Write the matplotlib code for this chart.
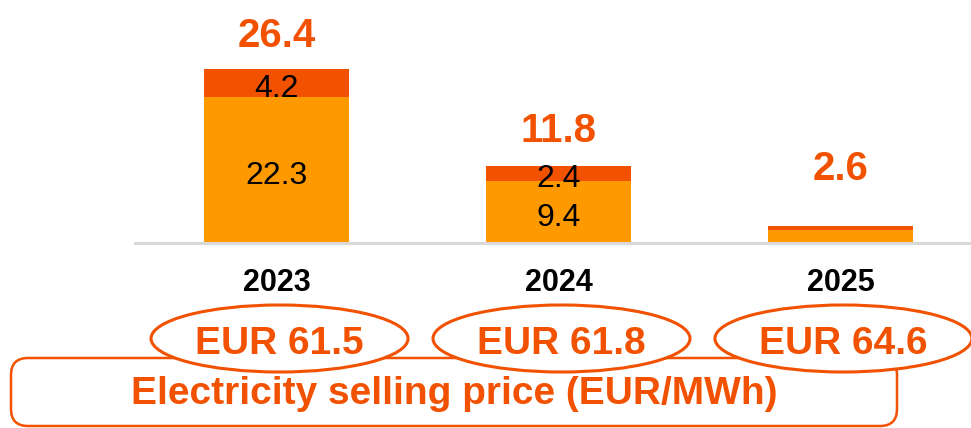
import matplotlib
matplotlib.use("Agg")
import matplotlib.pyplot as plt
from matplotlib.patches import Ellipse, FancyBboxPatch

plt.rcParams["font.family"] = ["Liberation Sans", "DejaVu Sans"]

years = ["2023", "2024", "2025"]
base_values = [22.3, 9.4, 2.0]
top_values = [4.2, 2.4, 0.6]
totals = [26.4, 11.8, 2.6]
prices = [61.5, 61.8, 64.6]
price_caption = "Electricity selling price (EUR/MWh)"

ORANGE = "#FF9900"
RED = "#F25100"
GREY = "#D9D9D9"
W, H = 971, 428


def main():
    fig = plt.figure(figsize=(W / 100, H / 100), dpi=100)
    fig.patch.set_facecolor("white")

    # bar area: baseline at y=243px, 1 unit ~ 6.55 px
    ax = fig.add_axes([135 / W, (H - 243) / H, (W - 135) / W, 239 / H])
    ax.patch.set_alpha(0)
    x = list(range(len(years)))
    ax.bar(x, base_values, width=0.514, color=ORANGE)
    ax.bar(x, top_values, bottom=base_values, width=0.514, color=RED)
    ax.set_xlim(-0.502, 2.463)
    ax.set_ylim(0, 36.5)
    for side in ["top", "left", "right"]:
        ax.spines[side].set_visible(False)
    ax.spines["bottom"].set_color(GREY)
    ax.spines["bottom"].set_linewidth(2.2)
    ax.set_xticks([])
    ax.set_yticks([])

    for i in x:
        if totals[i] >= 5:
            ax.annotate(f"{base_values[i]}", (i, base_values[i] / 2),
                        xytext=(0, -4), textcoords="offset points",
                        ha="center", va="center", fontsize=23, color="black")
            ax.annotate(f"{top_values[i]}",
                        (i, base_values[i] + top_values[i] / 2),
                        xytext=(0, -4), textcoords="offset points",
                        ha="center", va="center", fontsize=23, color="black")
        ax.annotate(f"{totals[i]}", (i, max(totals[i], 6) + 5.8),
                    xytext=(0, -2.5), textcoords="offset points",
                    ha="center", va="center", fontsize=29, fontweight="bold",
                    color=RED, annotation_clip=False)

    fig.canvas.draw()
    centers = [ax.transData.transform((i, 0))[0] for i in x]

    # overlay in pixel units (y down)
    ov = fig.add_axes([0, 0, 1, 1])
    ov.set_xlim(0, W)
    ov.set_ylim(H, 0)
    ov.axis("off")

    box = FancyBboxPatch((11, 358), 886, 68,
                         boxstyle="round,pad=0,rounding_size=17",
                         facecolor="white", edgecolor=RED, linewidth=1.8,
                         zorder=1)
    ov.add_patch(box)
    ov.text(454, 394, price_caption, ha="center", va="center", fontsize=28,
            fontweight="bold", color=RED, zorder=3)

    for cx, yr, p in zip(centers, years, prices):
        ov.text(cx, 283, yr, ha="center", va="center", fontsize=22,
                fontweight="bold", color="black")
        ell = Ellipse((cx + 3, 338.5), 257, 67, facecolor="white",
                      edgecolor=RED, linewidth=2.2, zorder=2)
        ov.add_patch(ell)
        ov.text(cx + 3, 344, f"EUR {p}", ha="center", va="center",
                fontsize=28, fontweight="bold", color=RED, zorder=3)

    fig.savefig("out.png", dpi=100)
    plt.close(fig)


if __name__ == "__main__":
    main()
